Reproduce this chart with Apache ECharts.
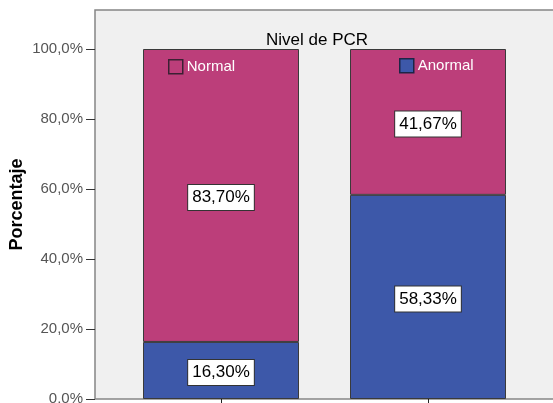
<!DOCTYPE html>
<html>
<head>
<meta charset="utf-8">
<script src="https://cdn.jsdelivr.net/npm/echarts@6/dist/echarts.min.js"></script>
<style>
html,body{margin:0;padding:0;background:#fff;}
#c{width:553px;height:403px;}
</style>
</head>
<body>
<div id="c"></div>
<script>
var categories = ['Grupo 1', 'Grupo 2'];
var normalValues = [83.70, 41.67];
var anormalValues = [16.30, 58.33];
var yTicks = [0, 20, 40, 60, 80, 100];
var seriesNames = ['Anormal', 'Normal'];

var FONT = '"Liberation Sans", Arial, sans-serif';
var PINK = '#bc3e7a';
var BLUE = '#3d58a9';

function pct(v) { return v.toFixed(2).replace('.', ',') + '%'; }

var labelStyle = {
  show: true,
  position: 'inside',
  offset: [0, 2],
  formatter: function (p) { return pct(p.value); },
  color: '#000',
  fontFamily: FONT,
  fontSize: 17,
  lineHeight: 20,
  backgroundColor: '#fff',
  borderColor: '#333',
  borderWidth: 1,
  padding: [3, 4, 2, 4]
};

var chart = echarts.init(document.getElementById('c'), null, {renderer: 'canvas'});
chart.setOption({
  backgroundColor: '#fff',
  animation: false,
  textStyle: {fontFamily: FONT},
  title: {
    text: 'Nivel de PCR',
    left: 266, top: 32, padding: 0,
    textStyle: {fontFamily: FONT, fontSize: 17, fontWeight: 'normal', color: '#000'}
  },
  legend: [
    {
      data: ['Normal'], left: 168, top: 59, padding: 0,
      icon: 'rect', itemWidth: 14, itemHeight: 14, itemGap: 4,
      itemStyle: {borderColor: '#3a2033', borderWidth: 1.5},
      textStyle: {color: '#fff', fontSize: 15, fontFamily: FONT, padding: [0, 0, 0, -1]}
    },
    {
      data: ['Anormal'], left: 399, top: 58, padding: 0,
      icon: 'rect', itemWidth: 14, itemHeight: 14, itemGap: 4,
      itemStyle: {borderColor: '#1d2546', borderWidth: 1.5},
      textStyle: {color: '#fff', fontSize: 15, fontFamily: FONT, padding: [0, 0, 0, -1]}
    }
  ],
  grid: [
    {left: 95, top: 10, right: -3, bottom: 4, show: true, backgroundColor: '#f0f0f0',
     borderColor: '#858585', borderWidth: 1.5, outerBoundsMode: 'none', containLabel: false},
    {left: 117.5, top: 49, right: 21.5, bottom: 4, outerBoundsMode: 'none', containLabel: false}
  ],
  xAxis: [
    {gridIndex: 0, type: 'value', show: false},
    {gridIndex: 1, type: 'category', data: categories,
     axisLine: {show: false},
     axisTick: {show: true, alignWithLabel: true, length: 6, lineStyle: {color: '#222'}},
     axisLabel: {show: false}}
  ],
  yAxis: [
    {gridIndex: 0, type: 'value', name: 'Porcentaje', nameLocation: 'middle', nameGap: 69,
     nameTextStyle: {fontFamily: FONT, fontSize: 18, fontWeight: 'bold', color: '#000'},
     axisLine: {show: false}, axisTick: {show: false}, axisLabel: {show: false}, splitLine: {show: false}},
    {gridIndex: 1, type: 'value', min: yTicks[0], max: yTicks[yTicks.length - 1], interval: 20,
     offset: 22.5,
     axisLine: {show: false},
     axisTick: {show: true, length: 9, lineStyle: {color: '#333'}},
     axisLabel: {margin: 12, color: '#555', fontSize: 15, fontFamily: FONT,
       formatter: function (v) { return v.toFixed(1).replace('.', ',') + '%'; }},
     splitLine: {show: false}}
  ],
  series: [
    {name: seriesNames[0], type: 'bar', stack: 'total', xAxisIndex: 1, yAxisIndex: 1,
     data: anormalValues, barWidth: 156,
     itemStyle: {color: BLUE, borderColor: '#3a3a3a', borderWidth: 1},
     label: labelStyle},
    {name: seriesNames[1], type: 'bar', stack: 'total', xAxisIndex: 1, yAxisIndex: 1,
     data: normalValues, barWidth: 156,
     itemStyle: {color: PINK, borderColor: '#3a3a3a', borderWidth: 1},
     label: labelStyle}
  ]
});
</script>
</body>
</html>
